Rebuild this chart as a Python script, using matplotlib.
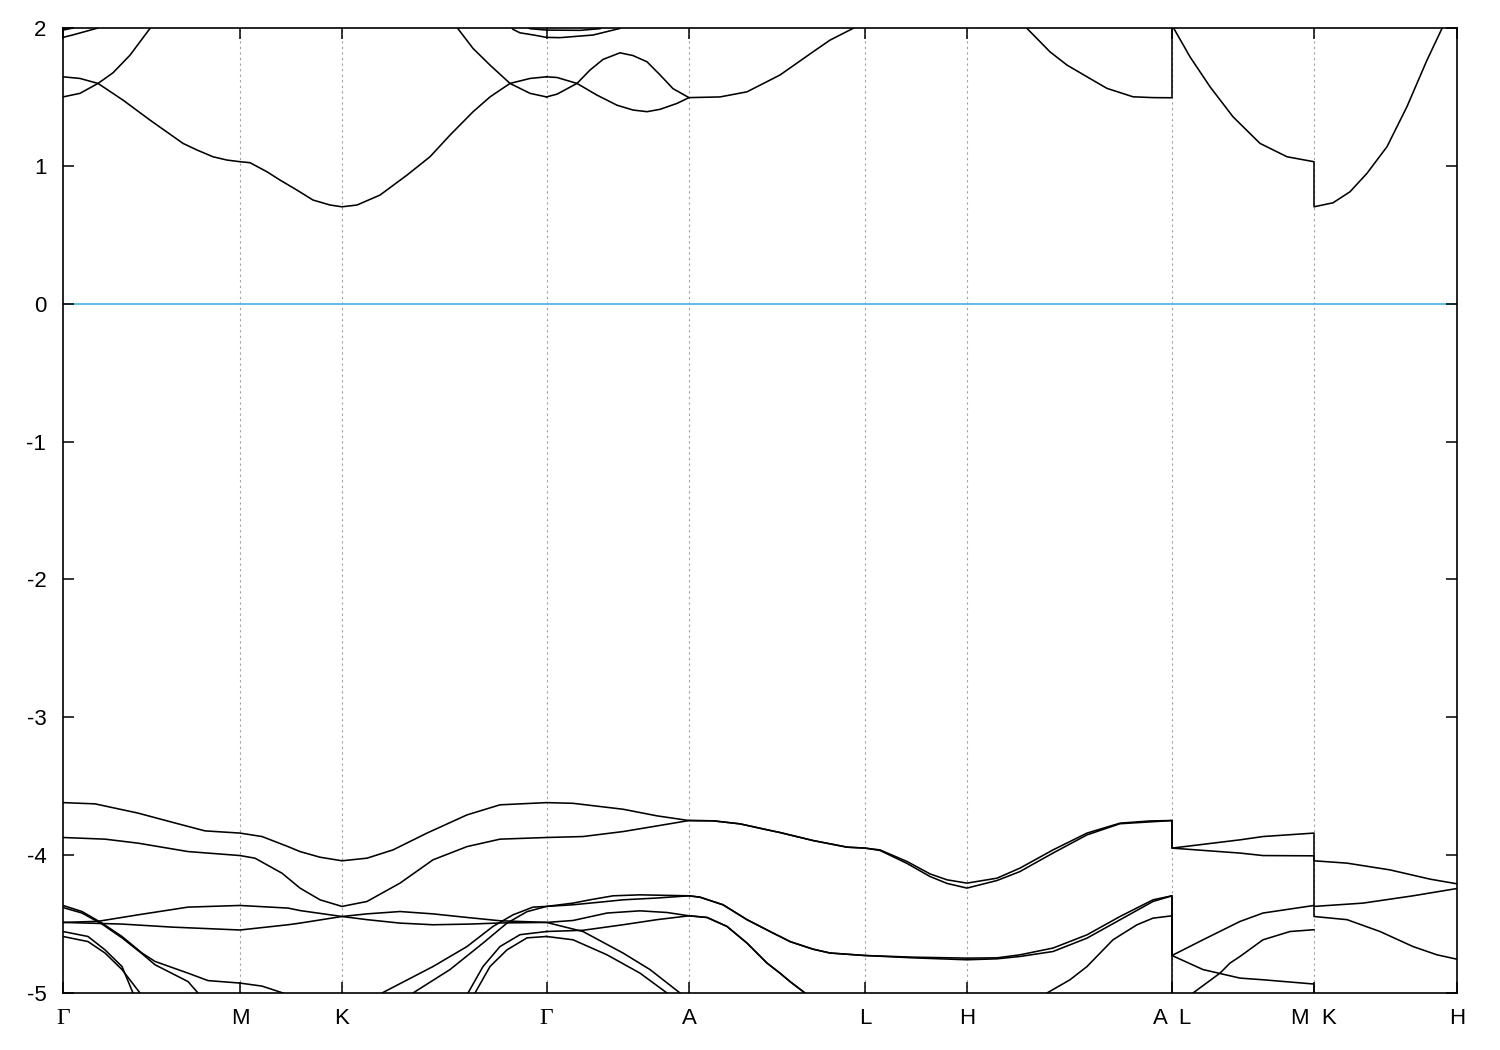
import matplotlib
matplotlib.use("Agg")
import matplotlib.pyplot as plt

plt.rcParams["font.family"] = ["Liberation Sans", "DejaVu Sans"]
plt.rcParams["axes.unicode_minus"] = False

# ── high-symmetry path ──
kticks = [0, 177, 279, 483.5, 626, 802, 904, 1109, 1251, 1394]
klabels = ["Γ", "M", "K", "Γ", "A", "L", "H", "A  L", "M  K", "H"]

# ── conduction bands (k, E) ──
cb_a = [(0, 1.646), (17, 1.634), (35, 1.598), (60, 1.477), (87, 1.332), (120, 1.163),
        (134, 1.115), (150, 1.066), (164, 1.042), (177, 1.03), (187, 1.023), (204, 0.957),
        (217, 0.897), (234, 0.824), (250, 0.752), (267, 0.716), (279, 0.703), (294, 0.716),
        (317, 0.788), (344, 0.933), (367, 1.066), (387, 1.223), (410, 1.392), (427, 1.50),
        (447, 1.598), (467, 1.634), (483.5, 1.646)]
cb_b = [(0, 1.50), (17, 1.526), (35, 1.598), (50, 1.675), (67, 1.803), (87, 1.997), (89, 2.03)]
cb_c = [(0, 1.932), (10, 1.95), (35, 2.0), (38, 2.02)]
cb_d = [(0, 1.985), (10, 2.0), (14, 2.02)]
cb_e = [(392, 2.03), (394, 2.004), (410, 1.852), (427, 1.731), (447, 1.598), (467, 1.526),
        (483.5, 1.50)]
cb_f = [(483.5, 1.50), (494, 1.52), (514, 1.598), (527, 1.695), (540, 1.772), (557, 1.82),
        (570, 1.80), (584, 1.755), (597, 1.66), (610, 1.56), (626, 1.495)]
cb_g = [(483.5, 1.646), (494, 1.641), (514, 1.598), (534, 1.513), (554, 1.44), (570, 1.405),
        (584, 1.393), (597, 1.41), (614, 1.453), (626, 1.495), (657, 1.50), (684, 1.537),
        (717, 1.659), (750, 1.827), (767, 1.912), (790, 1.997), (794, 2.03)]
cb_h = [(448, 2.01), (450, 1.99), (457, 1.965), (470, 1.95), (483.5, 1.932), (497, 1.93),
        (530, 1.949), (557, 1.997), (559, 2.01)]
cb_i = [(464, 2.01), (467, 1.995), (483.5, 1.985), (517, 1.983), (537, 1.995), (540, 2.01)]
cb_j = [(962, 2.03), (964, 1.997), (987, 1.827), (1004, 1.731), (1024, 1.646), (1044, 1.562),
        (1070, 1.501), (1090, 1.495), (1109, 1.494), (1109, 2.02), (1127, 1.791),
        (1147, 1.574), (1170, 1.356), (1197, 1.163), (1224, 1.066), (1251, 1.03),
        (1251, 0.703), (1270, 0.732), (1287, 0.812), (1304, 0.946), (1324, 1.139),
        (1344, 1.43), (1364, 1.767), (1379, 1.997), (1381, 2.03)]

# ── valence bands (k, E) ──
vb_1 = [(0, -3.619), (32, -3.628), (75, -3.695), (109, -3.761), (142, -3.824), (177, -3.840),
        (199, -3.865), (225, -3.938), (237, -3.974), (257, -4.015), (279, -4.041),
        (304, -4.022), (330, -3.962), (364, -3.840), (404, -3.708), (437, -3.635),
        (483.5, -3.619), (510, -3.624), (560, -3.667), (594, -3.715), (626, -3.749),
        (650, -3.751), (677, -3.773), (704, -3.816), (717, -3.836), (750, -3.894),
        (784, -3.942), (802, -3.949), (817, -3.962), (844, -4.046), (867, -4.136),
        (884, -4.179), (904, -4.203), (934, -4.167), (957, -4.094), (967, -4.054),
        (990, -3.962), (1024, -3.840), (1057, -3.768), (1087, -3.752), (1109, -3.749),
        (1109, -3.949), (1177, -3.889), (1200, -3.865), (1251, -3.840), (1251, -4.041),
        (1284, -4.058), (1327, -4.107), (1367, -4.174), (1394, -4.208)]
vb_2 = [(0, -3.872), (42, -3.884), (75, -3.913), (125, -3.974), (177, -4.003), (192, -4.022),
        (219, -4.131), (237, -4.239), (257, -4.324), (279, -4.372), (304, -4.336),
        (337, -4.203), (370, -4.034), (404, -3.938), (437, -3.884), (483.5, -3.872),
        (520, -3.865), (560, -3.829), (594, -3.788), (626, -3.749), (650, -3.751),
        (677, -3.773), (704, -3.816), (717, -3.836), (750, -3.894), (784, -3.942),
        (802, -3.949), (817, -3.966), (844, -4.06), (867, -4.155), (884, -4.205),
        (904, -4.239), (934, -4.184), (957, -4.119), (967, -4.078), (990, -3.985),
        (1024, -3.853), (1057, -3.772), (1109, -3.749), (1109, -3.949), (1177, -3.985),
        (1200, -4.003), (1251, -4.005), (1251, -4.372), (1300, -4.348), (1350, -4.295),
        (1394, -4.242)]
vb_3 = [(0, -4.488), (35, -4.48), (75, -4.433), (125, -4.377), (177, -4.365), (225, -4.384),
        (237, -4.402), (279, -4.445), (304, -4.426), (337, -4.409), (370, -4.426),
        (404, -4.452), (437, -4.476), (483.5, -4.488), (510, -4.474), (544, -4.42),
        (577, -4.404), (604, -4.416), (626, -4.44), (644, -4.452), (664, -4.517),
        (684, -4.638), (704, -4.783), (717, -4.856), (727, -4.917), (742, -5.0), (748, -5.05)]
vb_4 = [(0, -4.488), (59, -4.50), (109, -4.522), (177, -4.543), (225, -4.505), (237, -4.493),
        (279, -4.445), (304, -4.468), (337, -4.493), (370, -4.505), (407, -4.50),
        (437, -4.492), (483.5, -4.488), (520, -4.554), (560, -4.71), (587, -4.83),
        (617, -5.0), (622, -5.05)]
vb_5 = [(316, -5.05), (319, -5.0), (370, -4.808), (404, -4.663), (430, -4.517), (450, -4.433),
        (470, -4.377), (483.5, -4.372), (510, -4.348), (527, -4.324), (550, -4.295),
        (577, -4.288), (626, -4.295), (637, -4.305), (660, -4.36), (684, -4.468),
        (710, -4.565), (717, -4.59), (727, -4.627), (750, -4.682), (767, -4.71),
        (802, -4.728), (850, -4.74), (904, -4.747), (934, -4.745), (957, -4.723),
        (990, -4.674), (1024, -4.578), (1057, -4.445), (1090, -4.324), (1109, -4.295),
        (1109, -4.728), (1140, -4.614), (1177, -4.481), (1200, -4.42), (1251, -4.365),
        (1251, -4.445), (1284, -4.468), (1317, -4.554), (1350, -4.663), (1374, -4.723),
        (1394, -4.755)]
vb_6 = [(347, -5.05), (350, -5.0), (387, -4.83), (420, -4.638), (444, -4.493), (464, -4.41),
        (483.5, -4.372), (510, -4.36), (544, -4.336), (560, -4.324), (594, -4.311),
        (626, -4.295), (637, -4.305), (660, -4.36), (684, -4.468), (710, -4.565),
        (717, -4.59), (727, -4.627), (750, -4.682), (767, -4.71), (802, -4.728),
        (850, -4.745), (904, -4.759), (934, -4.752), (957, -4.735), (990, -4.699),
        (1024, -4.602), (1057, -4.469), (1090, -4.336), (1109, -4.295), (1109, -4.728),
        (1140, -4.83), (1177, -4.892), (1200, -4.904), (1251, -4.935), (1251, -5.05)]
vb_7 = [(483.5, -4.554), (520, -4.545), (560, -4.505), (594, -4.468), (626, -4.44),
        (644, -4.452), (664, -4.517), (684, -4.638), (704, -4.783), (717, -4.856),
        (727, -4.917), (742, -5.0), (748, -5.05)]
vb_8 = [(981, -5.05), (984, -5.0), (1007, -4.904), (1024, -4.808), (1050, -4.614),
        (1074, -4.505), (1090, -4.457), (1109, -4.44), (1109, -5.05)]
vb_9 = [(483.5, -4.59), (510, -4.614), (544, -4.723), (577, -4.856), (604, -5.0), (609, -5.04)]
vb_10 = [(403, -5.05), (405, -5.0), (420, -4.808), (437, -4.663), (457, -4.577), (483.5, -4.554)]
vb_11 = [(410, -5.05), (412, -5.0), (427, -4.808), (444, -4.687), (464, -4.60), (483.5, -4.59)]
vb_12 = [(0, -4.365), (19, -4.409), (39, -4.493), (59, -4.59), (79, -4.71), (92, -4.771),
         (125, -4.856), (145, -4.91), (177, -4.928), (199, -4.95), (220, -5.0), (225, -5.03)]
vb_13 = [(0, -4.38), (19, -4.42), (39, -4.50), (59, -4.60), (79, -4.715), (92, -4.795),
         (125, -4.917), (135, -5.0), (138, -5.03)]
vb_14 = [(0, -4.554), (25, -4.59), (42, -4.687), (59, -4.808), (70, -5.0), (72, -5.04)]
vb_15 = [(0, -4.59), (25, -4.627), (42, -4.71), (59, -4.83), (77, -5.0), (79, -5.04)]
vb_16 = [(1127, -5.05), (1130, -5.0), (1157, -4.856), (1167, -4.783), (1177, -4.735),
         (1200, -4.614), (1227, -4.554), (1251, -4.541)]

bands = [cb_a, cb_b, cb_c, cb_d, cb_e, cb_f, cb_g, cb_h, cb_i, cb_j,
         vb_1, vb_2, vb_3, vb_4, vb_5, vb_6, vb_7, vb_8, vb_9, vb_10,
         vb_11, vb_12, vb_13, vb_14, vb_15, vb_16]

fig = plt.figure(figsize=(15, 10.5), dpi=100)
ax = fig.add_axes([63 / 1500, 57 / 1050, 1394 / 1500, 965 / 1050])

for kx in kticks[1:-1]:
    ax.axvline(kx, color="#a0a0a0", lw=0.8, ls=(0, (2, 3)), zorder=0)
ax.axhline(0, color="#56b4e9", lw=1.3, zorder=1)

for band in bands:
    k, e = zip(*band)
    ax.plot(k, e, color="black", lw=1.15, zorder=2)

ax.set_xlim(kticks[0], kticks[-1])
ax.set_ylim(-5, 2)
ax.set_xticks(kticks)
ax.set_xticklabels(klabels)
ax.set_yticks(range(-5, 3))
ax.tick_params(direction="in", length=8, width=1.1, top=True, right=True,
               labelsize=16)
ax.tick_params(axis="x", pad=11)
ax.tick_params(axis="y", pad=12)
for lab in ax.get_xticklabels():
    if lab.get_text() == "Γ":
        lab.set_fontfamily(["Liberation Serif", "DejaVu Serif"])
        lab.set_fontsize(17)
for sp in ax.spines.values():
    sp.set_linewidth(1.2)

fig.savefig("out.png", dpi=100)
